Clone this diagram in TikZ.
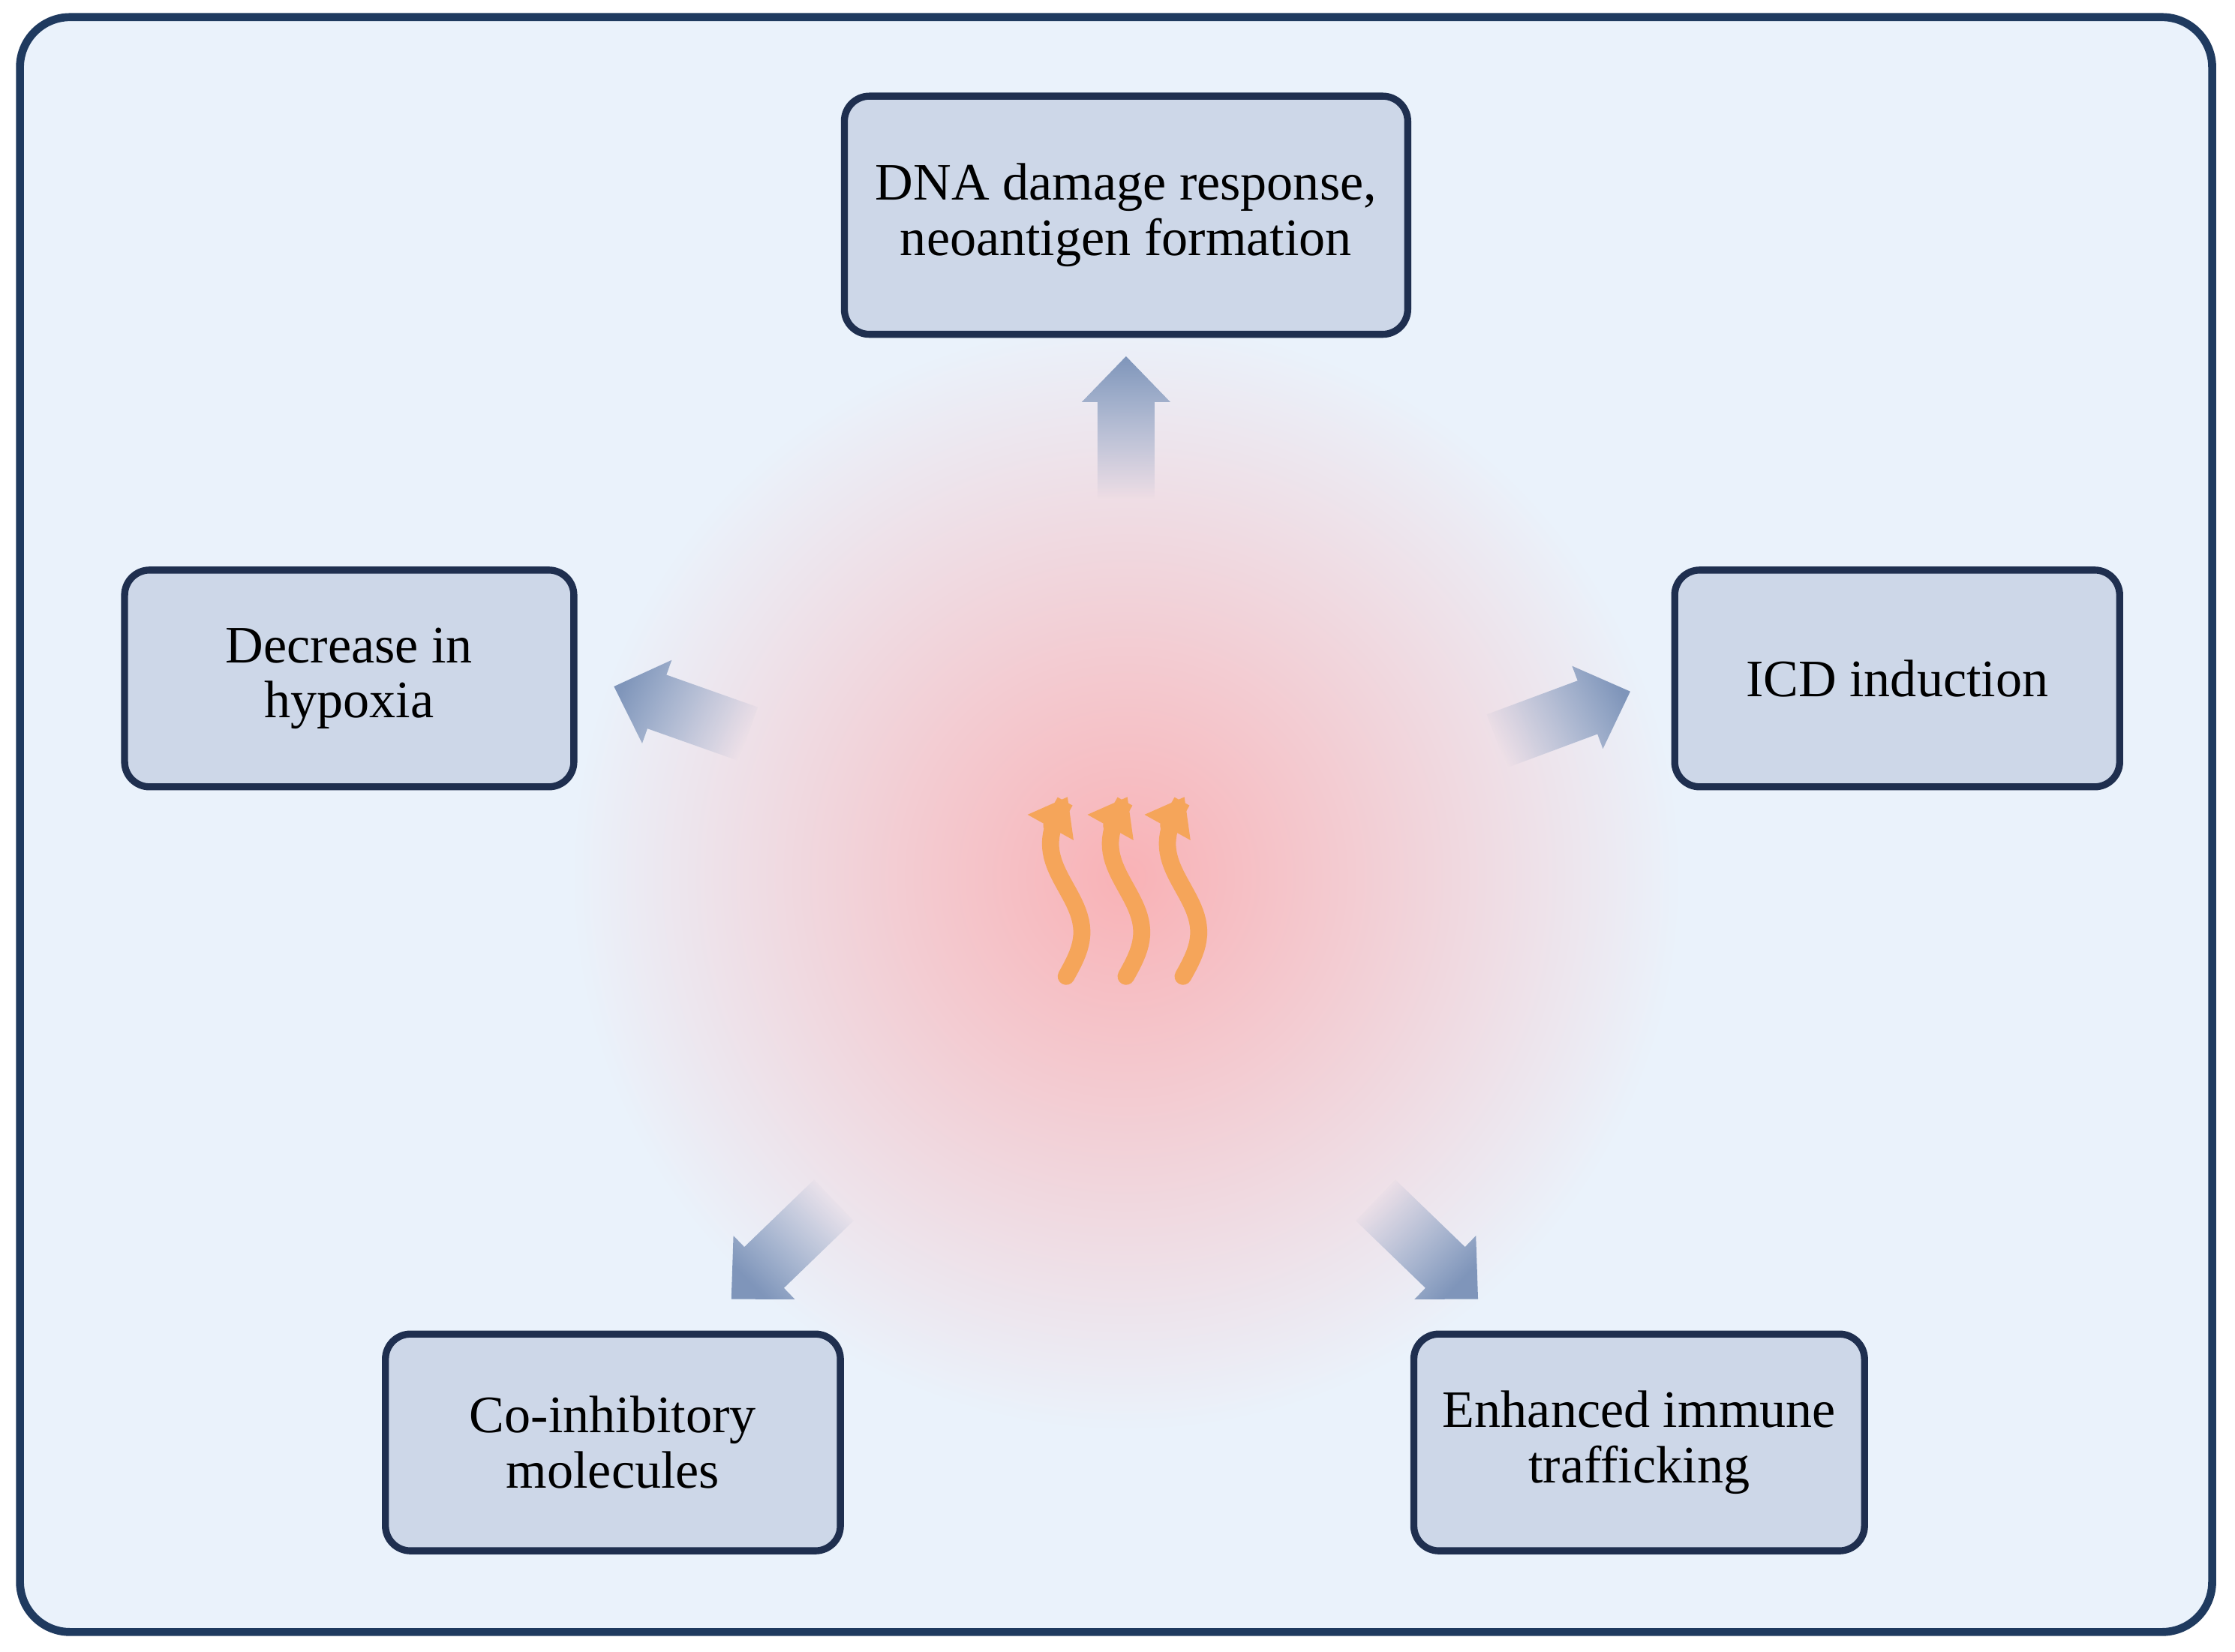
\documentclass[tikz,border=0pt]{standalone}
\usepackage{fontspec}
\setmainfont{Liberation Serif}
\usetikzlibrary{fadings,arrows.meta}
\definecolor{bg}{HTML}{EAF2FB}
\definecolor{frame}{HTML}{1F3A5F}
\definecolor{boxf}{HTML}{CDD7E8}
\definecolor{boxd}{HTML}{1F2F4F}
\definecolor{glow}{HTML}{F9B2B6}
\definecolor{arrowc}{HTML}{7F95BA}
\definecolor{heatc}{HTML}{F5A55A}
\tikzfading[name=arrowfade, left color=transparent!100, right color=transparent!0]
\tikzset{
  box/.style={draw=boxd, fill=boxf, line width=1.4pt, rounded corners=5pt, align=center,
    font=\fontsize{10.5}{11}\selectfont},
  heat/.style={draw=heatc, line width=3.4pt, line cap=round, -{Triangle[width=10pt,length=7pt]}},
}
\newcommand{\fadearrow}[3]{%
  \begin{scope}[shift={(#1,#2)}, rotate=#3]
    \fill[arrowc, path fading=arrowfade, fading angle=#3]
      (0,-20)--(68,-20)--(68,-31)--(100,0)--(68,31)--(68,20)--(0,20)--cycle;
  \end{scope}}
\begin{document}
\begin{tikzpicture}[x=0.01cm,y=0.01cm]
\useasboundingbox (0,0) rectangle (1568,1159);
\draw[frame, fill=bg, line width=1.6pt, rounded corners=10pt] (14,14) rectangle (1552,1147);
\shade[inner color=glow, outer color=bg] (790,544) circle (390);
\node[box, minimum width=3.95cm, minimum height=1.67cm] (dna) at (790,1008) {DNA damage response,\\neoantigen formation};
\node[box, minimum width=3.15cm, minimum height=1.52cm] (hyp) at (245,683) {Decrease in\\hypoxia};
\node[box, minimum width=3.12cm, minimum height=1.52cm] (icd) at (1331,683) {ICD induction};
\node[box, minimum width=3.19cm, minimum height=1.52cm] (coi) at (430,147) {Co-inhibitory\\molecules};
\node[box, minimum width=3.16cm, minimum height=1.52cm] (enh) at (1150,147) {Enhanced immune\\trafficking};
\fadearrow{790}{809}{90}
\fadearrow{525}{644}{160.5}
\fadearrow{1050}{639}{20.4}
\fadearrow{585}{317}{224}
\fadearrow{965}{317}{316}
\foreach \xo in {748,790,830}{
  \draw[heat] plot[domain=474:600, samples=40, variable=\t] ({\xo+11*sin((\t-474)*2.9)},\t);
}
\end{tikzpicture}
\end{document}
